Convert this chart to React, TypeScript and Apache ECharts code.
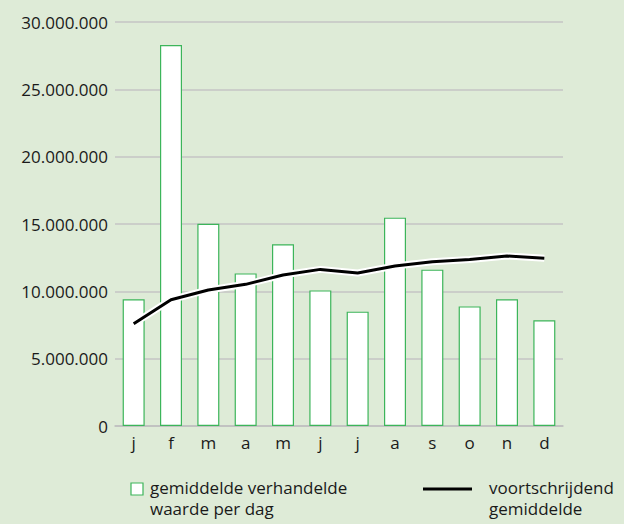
import React, { useEffect, useRef } from "react";
import * as echarts from "echarts";

const categories = ["j", "f", "m", "a", "m", "j", "j", "a", "s", "o", "n", "d"];
const dailyValues = [9410000, 28290000, 15020000, 11330000, 13490000, 10070000, 8490000, 15470000, 11610000, 8880000, 9410000, 7850000];
const movingAverage = [7600000, 9380000, 10100000, 10520000, 11210000, 11630000, 11360000, 11880000, 12200000, 12370000, 12620000, 12450000];
const yTicks = [0, 5000000, 10000000, 15000000, 20000000, 25000000, 30000000];
const legendBar = "gemiddelde verhandelde\nwaarde per dag";
const legendLine = "voortschrijdend\ngemiddelde";

const FONT = "Open Sans";

function fmt(v: number): string {
  return String(Math.round(v)).replace(/\B(?=(\d{3})+(?!\d))/g, ".");
}

export default function App() {
  const ref = useRef<HTMLDivElement>(null);
  useEffect(() => {
    if (!ref.current) return;
    const chart = echarts.init(ref.current, undefined, { renderer: "svg" });
    chart.setOption({
      animation: false,
      backgroundColor: "#deebd7",
      textStyle: { fontFamily: FONT },
      grid: { left: 115, right: 61, top: 22, bottom: 98 },
      xAxis: {
        type: "category",
        data: categories,
        axisLine: { show: true, lineStyle: { color: "#bfbfbf", width: 1.5 } },
        axisTick: { show: false },
        axisLabel: { color: "#1a1a1a", fontSize: 17, fontFamily: FONT, margin: 8 },
      },
      yAxis: {
        type: "value",
        min: yTicks[0],
        max: yTicks[yTicks.length - 1],
        interval: 5000000,
        axisLine: { show: false },
        axisTick: { show: false },
        splitLine: { lineStyle: { color: "#c4c4c4", width: 1.5 } },
        axisLabel: {
          color: "#1a1a1a",
          fontSize: 17,
          fontFamily: FONT,
          margin: 7,
          formatter: (v: number) => fmt(v),
        },
      },
      series: [
        {
          type: "bar",
          data: dailyValues,
          barWidth: 22,
          itemStyle: { color: "#ffffff", borderColor: "#3cb55a", borderWidth: 1.2 },
          z: 2,
        },
        {
          type: "line",
          data: movingAverage,
          symbol: "none",
          lineStyle: { color: "#ffffff", width: 7 },
          z: 3,
          silent: true,
        },
        {
          type: "line",
          data: movingAverage,
          symbol: "none",
          lineStyle: { color: "#000000", width: 3 },
          z: 4,
        },
      ],
      graphic: [
        {
          type: "rect",
          shape: { x: 131, y: 483, width: 12, height: 12 },
          style: { fill: "#ffffff", stroke: "#3cb55a", lineWidth: 1.2 },
        },
        {
          type: "text",
          x: 150,
          y: 477,
          style: { text: legendBar, fontSize: 17, fontFamily: FONT, fill: "#1a1a1a", lineHeight: 21 },
        },
        {
          type: "line",
          shape: { x1: 423, y1: 489, x2: 472, y2: 489 },
          style: { stroke: "#000000", lineWidth: 3 },
        },
        {
          type: "text",
          x: 489,
          y: 477,
          style: { text: legendLine, fontSize: 17, fontFamily: FONT, fill: "#1a1a1a", lineHeight: 21 },
        },
      ],
    });
    return () => chart.dispose();
  }, []);
  return (
    <div
      ref={ref}
      style={{ position: "absolute", left: 0, top: 0, width: 624, height: 524 }}
    />
  );
}
